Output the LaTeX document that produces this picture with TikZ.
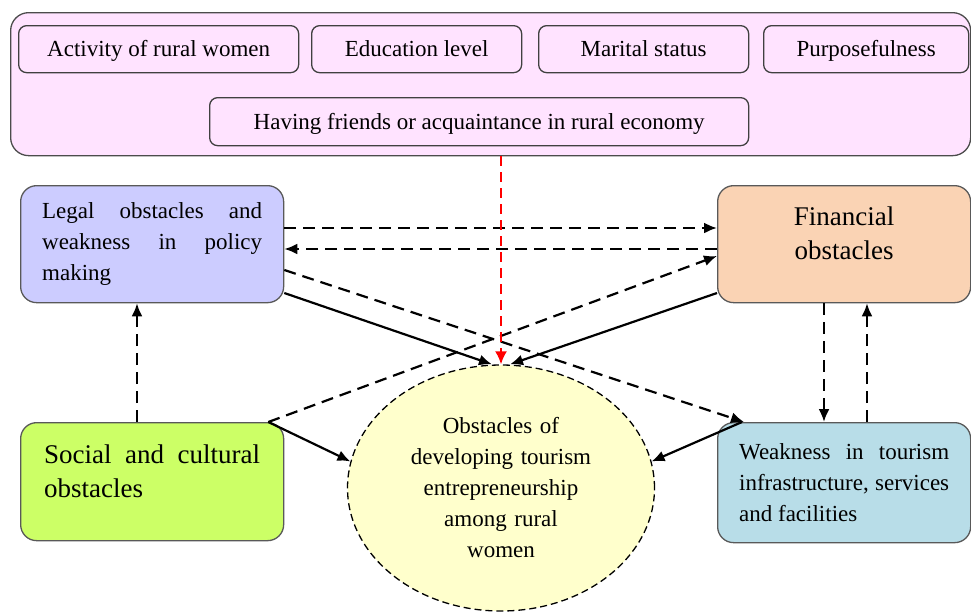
\documentclass[tikz,border=0pt]{standalone}
\usepackage{fontspec}
\setmainfont{Liberation Serif}
\usetikzlibrary{arrows.meta,shapes.geometric}
\definecolor{pinkc}{HTML}{FFE3FF}
\definecolor{legc}{HTML}{CCCCFF}
\definecolor{finc}{HTML}{FAD3B4}
\definecolor{socc}{HTML}{CCFF66}
\definecolor{weac}{HTML}{B8DDE8}
\definecolor{obsc}{HTML}{FFFFCC}
\newcommand{\normtxt}{\fontsize{23}{31}\selectfont}
\newcommand{\bigtxt}{\fontsize{27}{34}\selectfont}
\tikzset{
	grpbox/.style={draw=black!70,fill=pinkc,line width=1.3pt,rounded corners=18pt,anchor=north west,inner sep=0pt},
	itembox/.style={draw=black!75,fill=pinkc,line width=1.3pt,rounded corners=8pt,anchor=north west,inner sep=0pt,
		minimum height=47pt,text height=18pt,text depth=3pt,font=\normtxt},
	mainbox/.style={draw=black!65,line width=1.3pt,rounded corners=16pt,anchor=north west,inner sep=0pt},
	dasharr/.style={line width=2.2pt,dash pattern=on 12pt off 7pt,-{Latex[length=13pt,width=11pt]}},
	solarr/.style={line width=2.2pt,-{Latex[length=13pt,width=11pt]}},
	redarr/.style={red,line width=2.2pt,dash pattern=on 10pt off 6pt,-{Latex[length=13pt,width=12pt]}}
}
\begin{document}
\begin{tikzpicture}[x=1pt,y=-1pt]
	\useasboundingbox (0,0) rectangle (971,611);

	% factors of rural women
	\node[grpbox,minimum width=960pt,minimum height=143pt] (G) at (10,12) {};
	\node[itembox,minimum width=280pt] (T1) at (18,25) {Activity of rural women};
	\node[itembox,minimum width=210pt] (T2) at (311,25) {Education level};
	\node[itembox,minimum width=210pt] (T3) at (538,25) {Marital status};
	\node[itembox,minimum width=205pt] (T4) at (763,25) {Purposefulness};
	\node[itembox,minimum width=539pt,minimum height=48pt] (T5) at (209,97) {Having friends or acquaintance in rural economy};

	% obstacles
	\node[mainbox,fill=legc,minimum width=263pt,minimum height=117pt,text width=220pt,align=justify,font=\normtxt] (L1) at (20,185)
		{Legal obstacles and weakness in policy making};
	\node[mainbox,fill=finc,minimum width=253pt,minimum height=117pt,text width=200pt,align=center,font=\bigtxt] (F1) at (717,185)
		{Financial\\obstacles\par\kern21pt};
	\node[mainbox,fill=socc,minimum width=263pt,minimum height=118pt,text width=216pt,align=justify,font=\bigtxt] (S1) at (20,422)
		{Social and cultural obstacles\par\kern20pt};
	\node[mainbox,fill=weac,minimum width=253pt,minimum height=120pt,text width=210pt,align=justify,font=\normtxt] (W1) at (717,422)
		{Weakness in tourism infrastructure, services and facilities};
	\node[ellipse,draw,fill=obsc,line width=1.3pt,dash pattern=on 7pt off 4pt,minimum width=307pt,minimum height=246pt,
		text width=200pt,align=center,font=\normtxt] (O1) at (501,488)
		{Obstacles of\\developing tourism\\entrepreneurship\\among rural\\women};

	\draw[dasharr] (L1.east |- 0,228) -- (F1.west |- 0,228);
	\draw[dasharr] (F1.west |- 0,249) -- (L1.east |- 0,249);
	\draw[dasharr] (L1.east |- 0,270) -- ([xshift=27pt]W1.north west);
	\draw[solarr] (L1.east |- 0,293) -- ([xshift=-9pt]O1.north);
	\draw[solarr] (F1.west |- 0,293) -- ([xshift=9pt]O1.north);
	\draw[dasharr] ([xshift=-16pt]S1.north east) -- (F1.west |- 0,256);
	\draw[solarr] ([xshift=-16pt]S1.north east) -- (O1.170);
	\draw[dasharr] (S1.north -| 137,0) -- (L1.south -| 137,0);
	\draw[solarr] ([xshift=25pt]W1.north west) -- (O1.10);
	\draw[dasharr] (F1.south -| 824,0) -- (W1.north -| 824,0);
	\draw[dasharr] (W1.north -| 867,0) -- (F1.south -| 867,0);
	\draw[redarr] (G.south -| O1.north) -- (O1.north);
\end{tikzpicture}
\end{document}
